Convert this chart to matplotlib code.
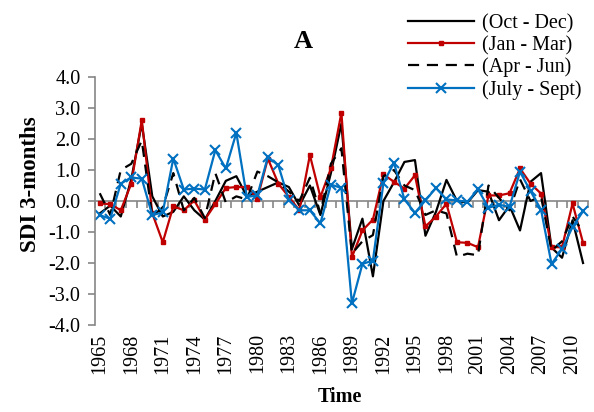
import matplotlib
matplotlib.use('Agg')
import matplotlib.pyplot as plt
from matplotlib.ticker import FormatStrFormatter

plt.rcParams['font.family'] = 'Liberation Serif'
plt.rcParams['axes.unicode_minus'] = False

# anos (categorias) e valores SDI de cada trimestre
years = list(range(1965, 2012))

oct_dec = [-0.4, -0.15, -0.5, 0.7, 2.5, 0.15, -0.5, -0.35, 0.15, -0.3,
           -0.6, 0.0, 0.65, 0.8, 0.15, 0.3, 0.45, 0.6, 0.45, -0.15,
           0.5, -0.45, 0.9, 2.5, -1.55, -0.57, -2.43, 0.0, 0.6, 1.26,
           1.32, -1.12, -0.35, 0.68, 0.0, -0.05, 0.35, 0.3, -0.62, -0.15,
           -0.95, 0.62, 0.9, -1.5, -1.83, -0.62, -2.0]

jan_mar = [-0.08, -0.1, -0.3, 0.56, 2.61, -0.4, -1.33, -0.17, -0.3, 0.02,
           -0.6, -0.1, 0.42, 0.45, 0.45, 0.08, 1.37, 0.56, 0.13, -0.3,
           1.48, 0.13, 1.05, 2.85, -1.81, -0.95, -0.6, 0.86, 0.62, 0.4,
           0.83, -0.82, -0.5, -0.09, -1.33, -1.35, -1.49, 0.18, 0.18, 0.25,
           1.05, 0.56, 0.24, -1.49, -1.49, -0.08, -1.35]

apr_jun = [0.25, -0.45, 1.0, 1.2, 1.95, -0.5, -0.2, 0.9, -0.3, 0.1,
           -0.55, 0.9, -0.05, 0.15, 0.05, 0.95, 0.8, 0.6, 0.3, 0.0,
           0.75, -0.4, 1.2, 1.7, -1.7, -1.3, -1.1, 0.8, 1.0, 0.5,
           0.35, -0.45, -0.3, -0.4, -1.8, -1.7, -1.75, 0.5, 0.1, -0.3,
           0.7, 0.0, 0.15, -1.6, -1.3, -0.5, -1.0]

july_sept = [-0.46, -0.57, 0.56, 0.76, 0.72, -0.46, -0.36, 1.37, 0.37, 0.40,
             0.37, 1.64, 1.05, 2.2, 0.13, 0.18, 1.42, 1.15, 0.02, -0.3,
             -0.3, -0.72, 0.53, 0.42, -3.3, -2.03, -1.92, 0.58, 1.23, 0.05,
             -0.38, 0.02, 0.42, 0.05, 0.02, -0.03, 0.38, -0.22, -0.12, -0.19,
             0.94, 0.32, -0.28, -2.03, -1.55, -0.84, -0.33]

x = list(range(len(years)))
cinza = '#868686'

fig = plt.figure(figsize=(5.94, 4.12), dpi=100)
ax = fig.add_axes([94.5 / 594, 1 - 325 / 412, (588.3 - 94.5) / 594, 248 / 412])

ax.plot(x, oct_dec, color='black', lw=1.6, label='(Oct - Dec)')
ax.plot(x, jan_mar, color='#C00000', lw=1.6, marker='s', ms=3.5, label='(Jan - Mar)')
ax.plot(x, apr_jun, color='black', lw=1.6, dashes=(5, 3.5), label='(Apr - Jun)')
ax.plot(x, july_sept, color='#0070C0', lw=1.6, marker='x', ms=7, mew=1.5,
        label='(July - Sept)')

ax.set_xlim(-0.5, len(years) - 0.5)
ax.set_ylim(-4, 4)
ax.set_yticks(range(-4, 5))
ax.yaxis.set_major_formatter(FormatStrFormatter('%.1f'))

for lado in ['top', 'right', 'bottom']:
    ax.spines[lado].set_visible(False)
ax.spines['left'].set_color(cinza)
ax.spines['left'].set_linewidth(1.2)

ax.tick_params(axis='y', direction='out', length=5, width=1.2, color=cinza,
               labelsize=14.5, pad=5)
ax.set_xticks(x[::3])
ax.set_xticklabels([str(a) for a in years[::3]], rotation=90)
ax.tick_params(axis='x', length=0, labelsize=14.5, pad=6)

# eixo horizontal no zero com as marcas entre categorias
sec = ax.secondary_xaxis(0.5)
sec.set_alignment('bottom')
sec.set_xticks([i - 0.5 for i in range(len(years) + 1)])
sec.set_xticklabels([])
sec.tick_params(direction='out', length=5, width=1.2, color=cinza)
sec.spines['bottom'].set_color(cinza)
sec.spines['bottom'].set_linewidth(1.2)

fig.text(303 / 594, 1 - 41 / 412, 'A', fontsize=19, fontweight='bold',
         ha='center', va='center')
fig.text(30 / 594, 1 - 184 / 412, 'SDI 3-months', fontsize=16.5, fontweight='bold',
         rotation=90, ha='center', va='center')
fig.text(340 / 594, 1 - 397 / 412, 'Time', fontsize=14.5, fontweight='bold',
         ha='center', va='center')

fig.legend(loc='upper left', bbox_to_anchor=(408 / 594, 1 - 14 / 412),
           frameon=False, fontsize=14.5, handlelength=3.3, handletextpad=0.35,
           labelspacing=0.13, borderpad=0, borderaxespad=0, numpoints=1)

fig.savefig('out.png', dpi=100)
